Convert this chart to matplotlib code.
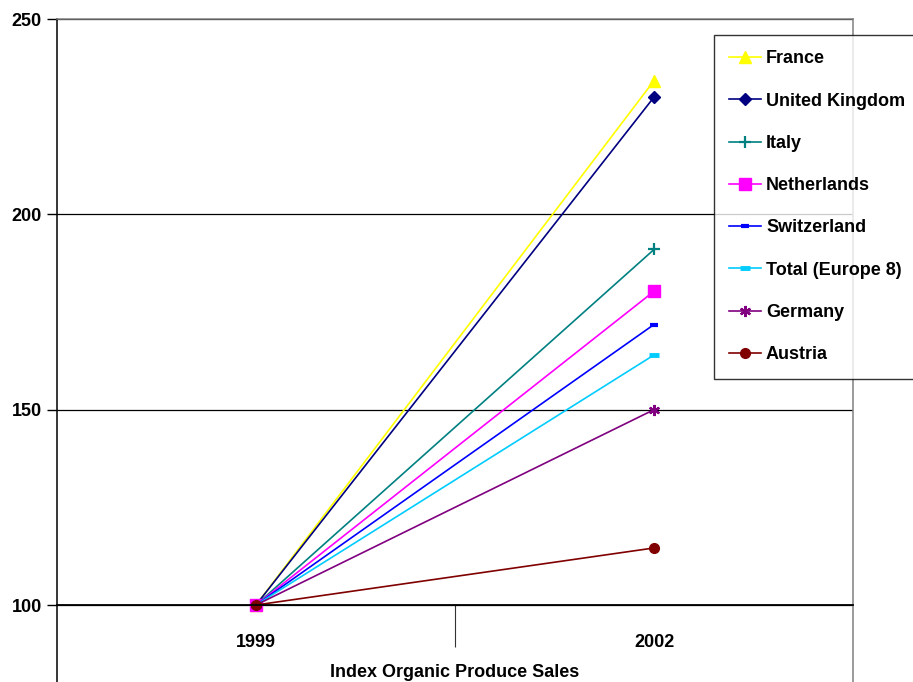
import matplotlib.pyplot as plt
from matplotlib.ticker import FixedLocator

years = ['1999', '2002']
countries = ['France', 'United Kingdom', 'Italy', 'Netherlands',
             'Switzerland', 'Total (Europe 8)', 'Germany', 'Austria']
idx_1999 = [100, 100, 100, 100, 100, 100, 100, 100]
idx_2002 = [234.2, 230.0, 191.0, 180.3, 171.8, 164.0, 150.0, 114.6]

colors = ['#FFFF00', '#000080', '#008080', '#FF00FF',
          '#0000FF', '#00CCFF', '#800080', '#800000']
markers = ['^', 'D', '+', 's', '_', '_', (6, 2, 0), 'o']
msizes = [8, 6, 8, 8, 6, 7, 8, 7]
mews = [1, 1, 1.6, 1, 3, 3.5, 1.6, 1]

plt.rcParams['font.family'] = ['Liberation Sans', 'DejaVu Sans']
plt.rcParams['font.weight'] = 'bold'

fig = plt.figure(figsize=(9.13, 6.82), dpi=100)
# plot area runs off the bottom edge of the picture
ymin, ymax = 78, 250
px_per = (605 - 19) / 150.0
bottom_px = 605 + (100 - ymin) * px_per
ax = fig.add_axes([57 / 913, 1 - bottom_px / 682, 796 / 913, (bottom_px - 19) / 682])

x = list(range(len(years)))
for i, name in enumerate(countries):
    ax.plot(x, [idx_1999[i], idx_2002[i]], color=colors[i], lw=1.2,
            marker=markers[i], ms=msizes[i], mew=mews[i], label=name)

ax.set_xlim(-0.5, 1.5)
ax.set_ylim(ymin, ymax)
ax.set_yticks([100, 150, 200, 250])
ax.tick_params(axis='y', length=7, width=1, pad=4, labelsize=13)
ax.yaxis.grid(True, color='black', lw=0.9)
ax.set_axisbelow(True)

ax.spines['bottom'].set_position(('data', 100))
ax.spines['left'].set_color('black')
ax.spines['right'].set_color('#808080')
ax.spines['top'].set_color('#808080')
for s in ax.spines.values():
    s.set_linewidth(1.1)
ax.spines['bottom'].set_linewidth(1.3)

ax.set_xticks(x)
ax.set_xticklabels(years)
ax.tick_params(axis='x', length=0, pad=21, labelsize=13)
ax.xaxis.set_minor_locator(FixedLocator([0.5]))
ax.tick_params(axis='x', which='minor', length=30, width=0.8, color='#333333')

ax.set_xlabel('Index Organic Produce Sales', fontsize=13, fontweight='bold')
ax.xaxis.set_label_coords(0.5, (bottom_px - 664) / (bottom_px - 19))

leg = ax.legend(loc='upper left', bbox_to_anchor=(714 / 913, 1 - 35 / 682),
                bbox_transform=fig.transFigure, frameon=True, fancybox=False,
                edgecolor='black', fontsize=13, handlelength=1.75,
                handletextpad=0.28, labelspacing=1.40, borderpad=0.85,
                borderaxespad=0)
leg.get_frame().set_linewidth(1.0)
leg.set_clip_on(False)

fig.savefig('out.png', dpi=100)
